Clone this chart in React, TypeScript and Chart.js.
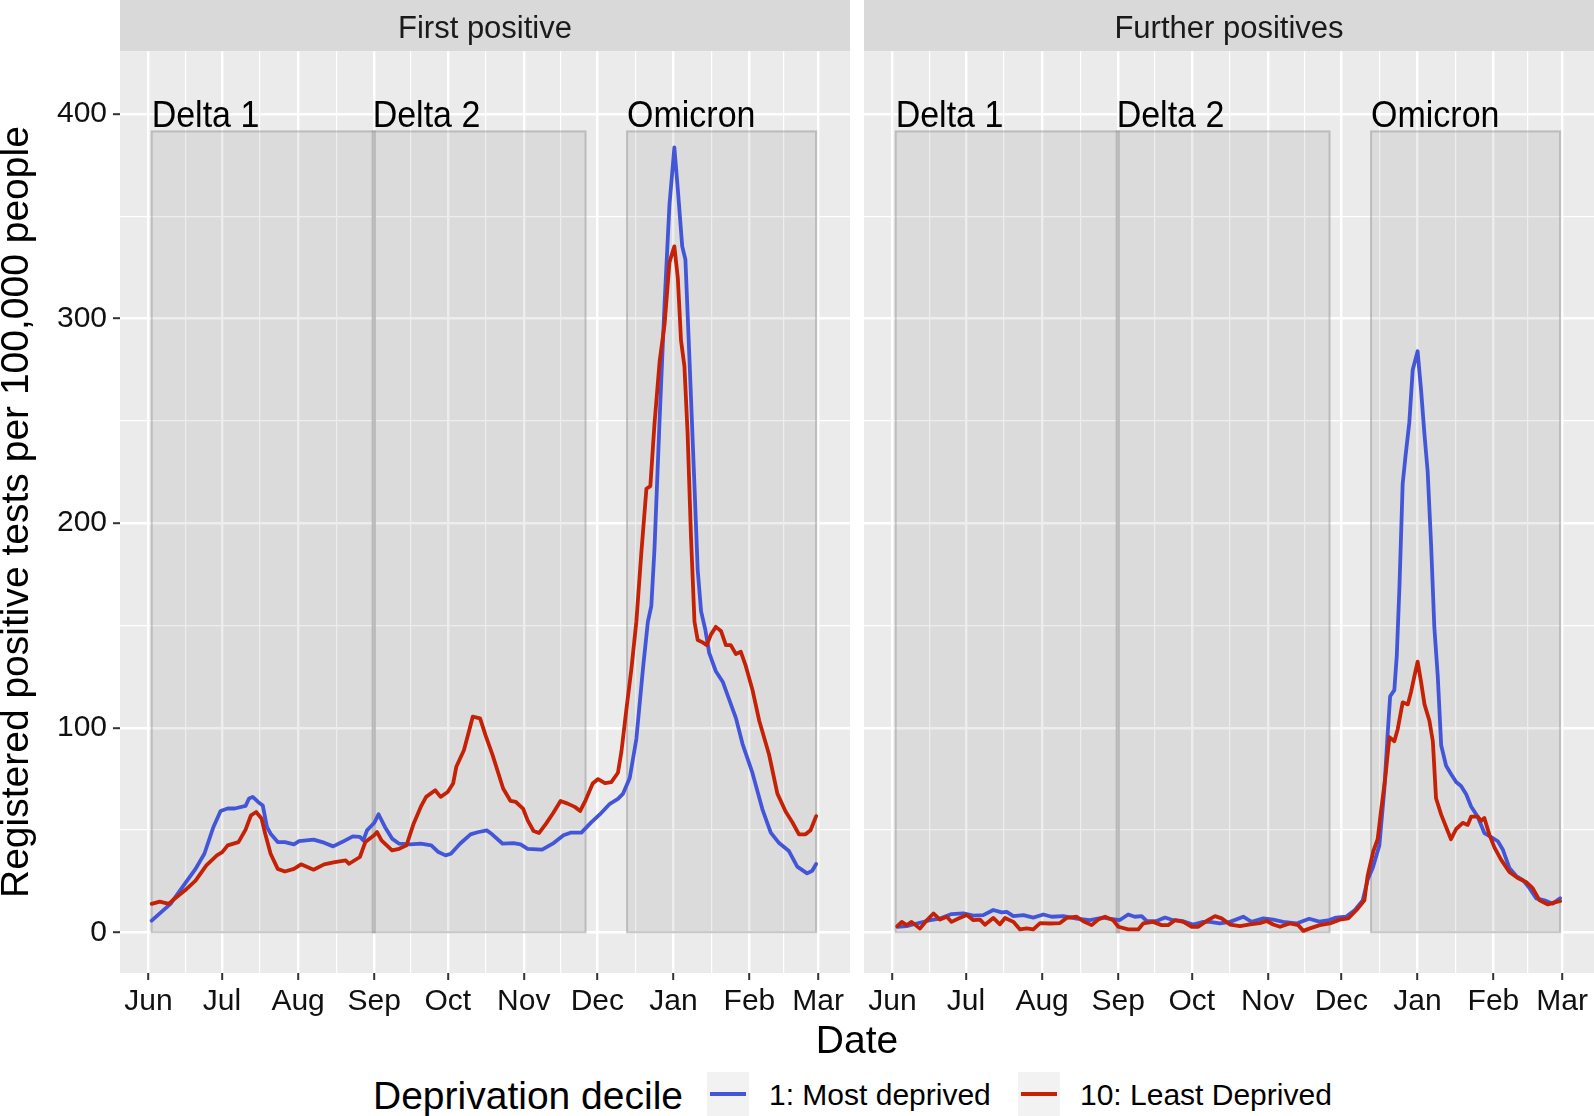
import React, { useEffect, useRef } from 'react';
import { Chart, registerables } from 'chart.js';

Chart.register(...registerables);

const FONT = "'Liberation Sans', Arial, Helvetica, sans-serif";
const BLUE = '#4456D8';
const RED = '#C42106';

// x values are days since 1 June 2021
const monthTickDays = [0, 30, 61, 92, 122, 153, 183, 214, 245, 273];
const monthTickLabels = ['Jun', 'Jul', 'Aug', 'Sep', 'Oct', 'Nov', 'Dec', 'Jan', 'Feb', 'Mar'];
const yMajorTicks = [0, 100, 200, 300, 400];
const yMinorTicks = [50, 150, 250, 350];

const panelTitles = ['First positive', 'Further positives'];
const seriesLabels = ['1: Most deprived', '10: Least Deprived'];
const legendTitle = 'Deprivation decile';
const xTitle = 'Date';
const yTitle = 'Registered positive tests per 100,000 people';

const phaseNames = ['Delta 1', 'Delta 2', 'Omicron'];
const phaseStartDays = [1.3, 91.4, 195.1];
const phaseEndDays = [92.3, 178.2, 272.2];
const phaseTop = 391.5;
const phaseLabelY = 400;

// First positive, decile 1 (most deprived)
const firstMostDays = [1.3, 9, 14.8, 19.2, 22.8, 26.5, 29.4, 32.3, 35.2, 39.6, 41, 42.5, 44.7, 46.6, 48.3, 49.8, 52.7, 55.6, 59.3, 61.4, 67.3, 71.6, 75.3, 78.9, 83.3, 86.2, 87.6, 89.1, 92, 93.8, 96.4, 99.3, 102.2, 106.6, 111, 115.3, 118.2, 121.1, 123.3, 127, 131.3, 134.2, 137.9, 140.1, 144.4, 148.8, 151.7, 154.6, 160.5, 164.8, 169.2, 172.1, 176.5, 180.4, 184, 188.1, 191.4, 193.5, 196.2, 198.9, 201.6, 203.6, 205, 206.3, 208.4, 210.4, 212.4, 214.4, 215.8, 217.6, 218.9, 220.5, 222.6, 223.9, 225.3, 227, 228.6, 231.3, 234.1, 236.8, 239.5, 242.2, 246.2, 250.3, 253.7, 257.1, 261.1, 264.5, 268.5, 270.6, 272.2];
const firstMostValues = [5.7, 13.9, 23.7, 31, 38.4, 51.5, 59.3, 60.5, 60.5, 61.8, 65.4, 66.2, 63.7, 62, 51.5, 48.2, 44.1, 44.1, 43, 44.6, 45.3, 43.8, 42, 44.1, 46.9, 46.6, 44.9, 49.8, 53.4, 57.7, 51.5, 45.8, 43.3, 43, 43.3, 42.5, 39.2, 37.6, 38.4, 43.3, 47.9, 48.9, 49.8, 47.9, 43.3, 43.6, 43, 40.8, 40.4, 43.3, 47.4, 48.7, 48.7, 53.6, 57.6, 62.8, 65.2, 67.8, 75.4, 94.5, 128.9, 151.8, 159.5, 187.5, 251.2, 307.3, 355.7, 383.7, 363.3, 335.3, 328.9, 281.8, 218.1, 177.3, 156.9, 148, 136.6, 127.6, 122.5, 113.6, 104.7, 92, 78, 60.1, 48.7, 43.6, 39.7, 32.1, 28.8, 30.1, 33.4];

// First positive, decile 10 (least deprived)
const firstLeastDays = [1.3, 4.6, 8.3, 10.5, 14.8, 19.2, 23.6, 27.9, 30.1, 32.3, 36.7, 39.6, 41.8, 43.9, 46.1, 47.6, 49.8, 52.7, 55.6, 59.3, 62.2, 67.3, 71.6, 76, 80.4, 81.8, 86.2, 88.4, 92, 93.2, 95, 99.3, 102.2, 105.2, 108.1, 111, 113.2, 116.9, 119.1, 122, 124.2, 125.5, 128.6, 130.8, 132.2, 135.2, 137.4, 140.3, 144.6, 147.6, 149.8, 152.7, 154.6, 157, 159.2, 162.1, 165, 168, 170.9, 173.8, 176, 178.2, 181.1, 183.3, 186.1, 188.7, 191.4, 192.8, 194.8, 196.9, 198.9, 200.9, 203, 204.6, 206.3, 208.4, 210.4, 212.4, 214.4, 215.8, 217.1, 218.5, 219.8, 221.2, 222.6, 223.9, 225.9, 227.6, 229.3, 231.3, 233.4, 235.4, 237.4, 239.5, 241.5, 243.5, 246.2, 249, 253, 256.4, 259.8, 262.5, 265.2, 267.9, 269.9, 272.2];
const firstLeastValues = [13.9, 15, 13.9, 16.3, 20.4, 25.3, 32.7, 37.6, 39.2, 42.5, 44.1, 50.2, 57.2, 58.8, 55.6, 48.2, 38.4, 31, 29.7, 31, 33.2, 30.6, 33.2, 34.3, 35.1, 33.5, 36.8, 44.1, 47.4, 49, 44.9, 40, 40.8, 42.5, 53.1, 61.3, 66.2, 69.4, 66.2, 68.6, 72.7, 80.9, 89, 98.9, 105.4, 104.6, 96.4, 86.6, 70.3, 64.2, 63.7, 60.5, 54.7, 49.5, 48.5, 53.1, 58.3, 64.2, 62.9, 61.3, 59.3, 64.5, 72.7, 74.9, 72.9, 73.4, 78, 88.2, 108.5, 128.9, 151.8, 185, 216.8, 218.1, 248.7, 279.2, 297.1, 327.6, 335.3, 320, 289.4, 276.7, 243.6, 192.6, 151.8, 142.9, 141.7, 140.4, 145.5, 149.3, 147.3, 140.4, 140.4, 136, 137.1, 130.2, 118.7, 103.4, 86.9, 67.8, 58.9, 53.8, 47.9, 47.9, 49.9, 56.8];

// Further positives, decile 1 (most deprived)
const furtherMostDays = [2, 5.8, 9.9, 15.3, 19.4, 24.1, 28.9, 33, 37, 41.1, 44.5, 46.6, 49.3, 53.4, 57.4, 61.5, 64.9, 69.7, 75.1, 80.5, 85.9, 89, 92.7, 96.1, 98.8, 101.6, 103.6, 107.7, 111.1, 114.5, 117.9, 122.6, 126.7, 129.4, 133.5, 137.6, 143, 146.4, 151.2, 155.2, 159.3, 164.7, 169.9, 174, 178.1, 180.8, 184.9, 188.3, 191.7, 193.7, 195.8, 198.5, 200.5, 201.9, 202.9, 204.6, 205.6, 206.7, 208, 209.1, 210.7, 212.1, 213.2, 214.1, 215.5, 216.9, 218.2, 219.6, 220.9, 222.3, 223.7, 225.7, 227.7, 229.8, 231.8, 233.9, 235.9, 238.6, 241.3, 244.1, 246.8, 248.8, 251.5, 254.3, 257, 259.7, 262.4, 265.8, 269.2, 272.2];
const furtherMostValues = [2.7, 3, 4.3, 5.9, 6.7, 8.9, 9.2, 8.1, 8.4, 10.9, 9.7, 10, 7.9, 8.4, 7.2, 8.7, 7.6, 7.9, 6.7, 5.9, 7.2, 6.5, 6, 8.7, 7.6, 7.9, 5.6, 5.5, 7.2, 5.9, 5.6, 3.8, 5.1, 5.1, 4.3, 5.1, 7.6, 5.1, 6.8, 6.2, 5.1, 4.3, 6.6, 5.2, 6, 7.2, 7.6, 10.6, 15.6, 25.5, 31.5, 42.5, 69.5, 97.4, 115.4, 118.4, 135.3, 169.3, 219.2, 232.1, 249.1, 275, 280, 284, 265.1, 243.1, 225.1, 189.2, 149.3, 125.3, 91.4, 81.4, 77.4, 73.5, 71.5, 67.5, 61.5, 56.5, 48.5, 46.5, 44.5, 40.5, 31.5, 27.5, 25.5, 21.6, 16.6, 15.6, 14, 16.6];

// Further positives, decile 10 (least deprived)
const furtherLeastDays = [2, 3.8, 5.8, 7.8, 11.2, 14, 16.7, 19.4, 22.1, 24.1, 26.9, 30.3, 33, 35.7, 37.7, 41.1, 43.8, 45.9, 49.3, 52, 54.7, 57.4, 60.2, 64.2, 68.3, 71, 75.1, 77.8, 81.2, 83.9, 86.7, 90, 92.1, 96.1, 100.2, 102.2, 106.3, 109.7, 112.4, 115.2, 118.6, 122, 124.7, 128.1, 131.5, 134.2, 137.6, 141.7, 145.8, 149.8, 152.6, 155.2, 158, 162, 165.4, 167.5, 170.2, 174.2, 178.3, 182.4, 185.8, 189.2, 192.4, 193.7, 196, 197.8, 199.2, 200.9, 202.6, 204.6, 206, 208, 210.1, 211.4, 212.8, 214.1, 215.5, 216.9, 218.9, 220.3, 221.6, 223.7, 225.7, 227.7, 229.8, 232.5, 234.5, 235.9, 238.6, 240, 241.3, 243.4, 245.4, 248.1, 251.5, 254.9, 258.3, 261, 263.8, 267.2, 269.9, 272.2];
const furtherLeastValues = [3, 5.1, 3.5, 5.1, 1.8, 5.9, 9.2, 6.2, 7.6, 5.1, 6.7, 8.4, 5.9, 6.2, 3.7, 7, 3.9, 7, 5.1, 1.4, 1.9, 1.4, 4.5, 4.3, 4.5, 7, 7.6, 5.4, 3.5, 6.2, 7.6, 5.9, 2.7, 1.4, 1.4, 4.3, 5.1, 3.5, 3.5, 5.9, 5.1, 2.7, 2.7, 5.6, 7.9, 6.8, 3.8, 3, 3.9, 4.5, 5.5, 3.8, 2.7, 4.3, 3.5, 0.7, 1.9, 3.5, 4.3, 6.2, 6.8, 10.9, 15.6, 27.5, 39.5, 45.5, 59.5, 75.4, 95.4, 93.4, 99.4, 112.4, 111.4, 117.4, 125.3, 132.3, 122.4, 111.4, 103.4, 93.4, 65.5, 57.5, 51.5, 45.5, 50.5, 53.5, 52.5, 56.5, 56.5, 54.5, 55.9, 47.5, 41.5, 35.5, 29.5, 26.5, 24.6, 21.6, 15.6, 13.6, 14.6, 15.2];

// axis limits (ggplot expanded ranges)
const X_MIN = -11.6;
const X_MAX = 286.0;
const Y_MIN = -19.9;
const Y_MAX = 430.7;

const monthMidDays = monthTickDays.slice(1).map((d, i) => (d + monthTickDays[i]) / 2);
const xTickValues = [...monthTickDays, ...monthMidDays].sort((a, b) => a - b);
const yTickValues = [...yMajorTicks, ...yMinorTicks].sort((a, b) => a - b);

const toXY = (days: number[], values: number[]) => days.map((d, i) => ({ x: d, y: values[i] }));

const LINE_W = 3.8;

const panelPlugin = {
  id: 'panelDecor',
  beforeDraw(chart: any) {
    const { ctx, chartArea: a } = chart;
    ctx.save();
    ctx.fillStyle = '#D9D9D9';
    ctx.fillRect(a.left, 0, a.right - a.left, a.top);
    ctx.fillStyle = '#EBEBEB';
    ctx.fillRect(a.left, a.top, a.right - a.left, a.bottom - a.top);
    ctx.restore();
  },
  beforeDatasetsDraw(chart: any) {
    const { ctx, chartArea: a, scales } = chart;
    const xs = scales.x;
    const ys = scales.y;
    ctx.save();
    ctx.beginPath();
    ctx.rect(a.left, a.top, a.right - a.left, a.bottom - a.top);
    ctx.clip();
    const yb = ys.getPixelForValue(0);
    const yt = ys.getPixelForValue(phaseTop);
    for (let i = 0; i < phaseNames.length; i++) {
      const x0 = xs.getPixelForValue(phaseStartDays[i]);
      const x1 = xs.getPixelForValue(phaseEndDays[i]);
      ctx.fillStyle = 'rgba(128,128,128,0.14)';
      ctx.fillRect(x0, yt, x1 - x0, yb - yt);
      ctx.strokeStyle = 'rgba(150,150,150,0.5)';
      ctx.lineWidth = 2;
      ctx.strokeRect(x0, yt, x1 - x0, yb - yt);
    }
    ctx.fillStyle = '#000000';
    ctx.font = `34px ${FONT}`;
    ctx.textAlign = 'left';
    ctx.textBaseline = 'alphabetic';
    const ly = ys.getPixelForValue(phaseLabelY);
    for (let i = 0; i < phaseNames.length; i++) {
      const lx = xs.getPixelForValue(phaseStartDays[i]);
      ctx.save();
      ctx.translate(lx, ly + 13);
      ctx.scale(1, 1.08);
      ctx.fillText(phaseNames[i], 0, 0);
      ctx.restore();
    }
    ctx.restore();
  },
};

const isMajorX = (v: any) => monthTickDays.includes(v);
const isMajorY = (v: any) => yMajorTicks.includes(v);

function buildConfig(title: string, mostDays: number[], mostVals: number[], leastDays: number[], leastVals: number[], showY: boolean): any {
  return {
    type: 'line',
    data: {
      datasets: [
        {
          label: seriesLabels[1],
          data: toXY(leastDays, leastVals),
          borderColor: RED,
          backgroundColor: RED,
          borderWidth: LINE_W,
          borderJoinStyle: 'round',
          borderCapStyle: 'round',
          pointRadius: 0,
          pointHoverRadius: 0,
          tension: 0,
          fill: false,
          order: 0,
        },
        {
          label: seriesLabels[0],
          data: toXY(mostDays, mostVals),
          borderColor: BLUE,
          backgroundColor: BLUE,
          borderWidth: LINE_W,
          borderJoinStyle: 'round',
          borderCapStyle: 'round',
          pointRadius: 0,
          pointHoverRadius: 0,
          tension: 0,
          fill: false,
          order: 1,
        },
      ],
    },
    options: {
      animation: false,
      responsive: false,
      devicePixelRatio: 1,
      events: [],
      layout: { padding: 0, autoPadding: false },
      plugins: {
        legend: { display: false },
        tooltip: { enabled: false },
        title: {
          display: true,
          text: title,
          fullSize: false,
          color: '#1A1A1A',
          font: { family: FONT, size: 31, weight: 'normal', lineHeight: 1.2 },
          padding: { top: 11, bottom: 3 },
        },
      },
      scales: {
        x: {
          type: 'linear',
          min: X_MIN,
          max: X_MAX,
          afterBuildTicks: (s: any) => {
            s.ticks = xTickValues.map((v) => ({ value: v }));
          },
          afterFit: (s: any) => {
            s.height = 57;
          },
          ticks: {
            autoSkip: false,
            maxRotation: 0,
            minRotation: 0,
            padding: 4,
            color: '#111111',
            font: { family: FONT, size: 30 },
            callback: (v: any) => {
              const i = monthTickDays.indexOf(v);
              return i >= 0 ? monthTickLabels[i] : '';
            },
          },
          grid: {
            color: '#FFFFFF',
            lineWidth: (c: any) => (c.tick && isMajorX(c.tick.value) ? 2.4 : 1.2),
            drawTicks: true,
            tickLength: 7,
            tickWidth: 2,
            tickColor: (c: any) => (c.tick && isMajorX(c.tick.value) ? '#333333' : 'rgba(0,0,0,0)'),
          },
          border: { display: false },
        },
        y: {
          type: 'linear',
          min: Y_MIN,
          max: Y_MAX,
          afterBuildTicks: (s: any) => {
            s.ticks = yTickValues.map((v) => ({ value: v }));
          },
          afterFit: (s: any) => {
            s.width = showY ? 120 : 0;
          },
          ticks: {
            display: showY,
            padding: 6,
            color: '#111111',
            font: { family: FONT, size: 30 },
            callback: (v: any) => (isMajorY(v) ? String(v) : ''),
          },
          grid: {
            color: '#FFFFFF',
            lineWidth: (c: any) => (c.tick && isMajorY(c.tick.value) ? 2.4 : 1.2),
            drawTicks: showY,
            tickLength: 7,
            tickWidth: 2,
            tickColor: (c: any) => (c.tick && isMajorY(c.tick.value) ? '#333333' : 'rgba(0,0,0,0)'),
          },
          border: { display: false },
          title: {
            display: showY,
            text: yTitle,
            color: '#000000',
            font: { family: FONT, size: 39, lineHeight: 0.9 },
            padding: 0,
          },
        },
      },
    },
    plugins: [panelPlugin],
  };
}

export default function App() {
  const leftRef = useRef<HTMLCanvasElement>(null);
  const rightRef = useRef<HTMLCanvasElement>(null);

  useEffect(() => {
    const c1 = new Chart(
      leftRef.current as HTMLCanvasElement,
      buildConfig(panelTitles[0], firstMostDays, firstMostValues, firstLeastDays, firstLeastValues, true)
    );
    const c2 = new Chart(
      rightRef.current as HTMLCanvasElement,
      buildConfig(panelTitles[1], furtherMostDays, furtherMostValues, furtherLeastDays, furtherLeastValues, false)
    );
    return () => {
      c1.destroy();
      c2.destroy();
    };
  }, []);

  const keyBox = (left: number, color: string) => (
    <div style={{ position: 'absolute', left, top: 1072, width: 42, height: 44, background: '#F2F2F2' }}>
      <div style={{ position: 'absolute', left: 3, top: 20, width: 36, height: 4, background: color }} />
    </div>
  );

  return (
    <div
      style={{
        position: 'absolute',
        left: 0,
        top: 0,
        width: 1594,
        height: 1116,
        background: '#FFFFFF',
        overflow: 'hidden',
        fontFamily: FONT,
        color: '#000000',
      }}
    >
      <canvas ref={leftRef} width={850} height={1030} style={{ position: 'absolute', left: 0, top: 0, width: 850, height: 1030 }} />
      <canvas ref={rightRef} width={730} height={1030} style={{ position: 'absolute', left: 864, top: 0, width: 730, height: 1030 }} />
      <div style={{ position: 'absolute', left: 120, width: 1474, top: 1020, fontSize: 39, lineHeight: '39px', textAlign: 'center', whiteSpace: 'nowrap' }}>
        {xTitle}
      </div>
      <div style={{ position: 'absolute', left: 373, top: 1076, fontSize: 39, lineHeight: '39px', whiteSpace: 'nowrap' }}>{legendTitle}</div>
      {keyBox(707, BLUE)}
      <div style={{ position: 'absolute', left: 769, top: 1080, fontSize: 30, lineHeight: '30px', whiteSpace: 'nowrap' }}>{seriesLabels[0]}</div>
      {keyBox(1018, RED)}
      <div style={{ position: 'absolute', left: 1080, top: 1080, fontSize: 30, lineHeight: '30px', whiteSpace: 'nowrap' }}>{seriesLabels[1]}</div>
    </div>
  );
}
